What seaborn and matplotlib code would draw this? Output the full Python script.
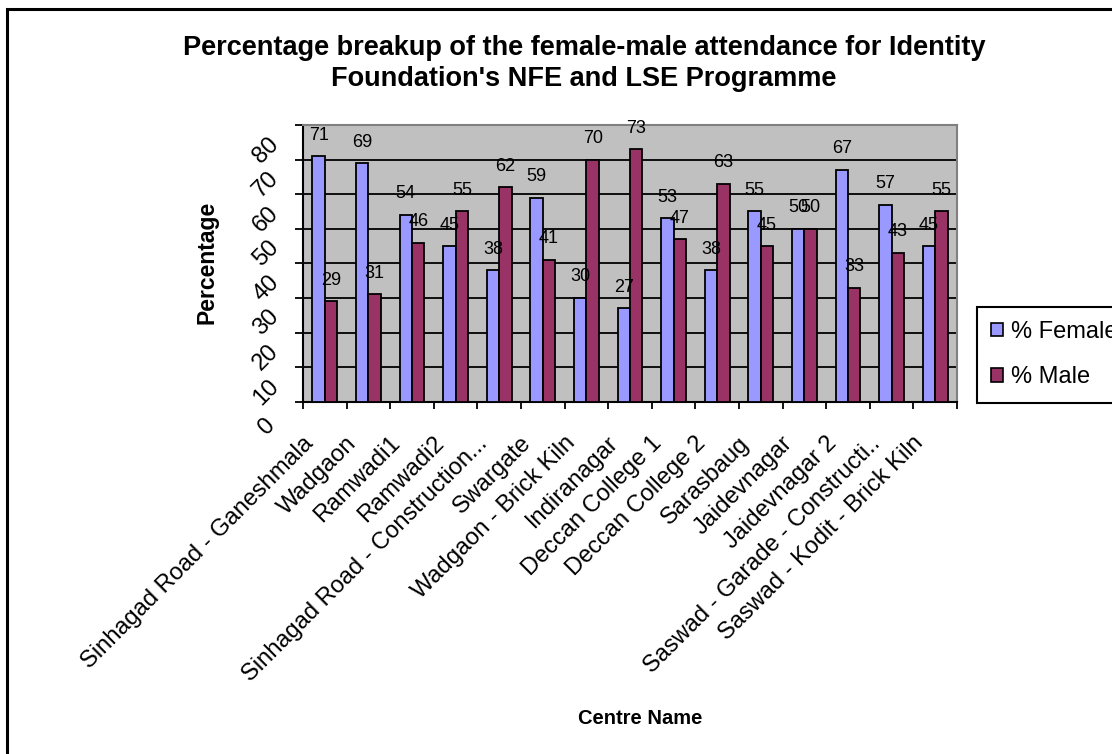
import numpy as np
import pandas as pd
import matplotlib
matplotlib.use("Agg")
import matplotlib.pyplot as plt
import matplotlib.transforms as mtransforms
from matplotlib.patches import Rectangle, Patch
import seaborn as sns

# ---- data -------------------------------------------------------------
centres = [
    "Sinhagad Road - Ganeshmala", "Wadgaon", "Ramwadi1", "Ramwadi2",
    "Sinhagad Road - Construction...", "Swargate", "Wadgaon - Brick Kiln",
    "Indiranagar", "Deccan College 1", "Deccan College 2", "Sarasbaug",
    "Jaidevnagar", "Jaidevnagar 2", "Saswad - Garade - Constructi..",
    "Saswad - Kodit - Brick Kiln",
]
female_pct = [71, 69, 54, 45, 38, 59, 30, 27, 53, 38, 55, 50, 67, 57, 45]
male_pct = [29, 31, 46, 55, 62, 41, 70, 73, 47, 63, 45, 50, 33, 43, 55]
series_names = ["% Female", "% Male"]
y_ticks = [0, 10, 20, 30, 40, 50, 60, 70, 80]
title_lines = [
    "Percentage breakup of the female-male attendance for Identity",
    "Foundation's NFE and LSE Programme",
]

colors = {"% Female": "#9999FF", "% Male": "#993366"}

df = pd.DataFrame({
    "Centre Name": centres + centres,
    "Series": [series_names[0]] * len(centres) + [series_names[1]] * len(centres),
    "Percentage": female_pct + male_pct,
})

# ---- style ------------------------------------------------------------
sns.set_style("white")
plt.rcParams["font.family"] = ["Liberation Sans", "DejaVu Sans"]
for key in ["text.color", "axes.labelcolor", "xtick.color", "ytick.color"]:
    plt.rcParams[key] = "black"

W, H = 1112, 754
fig = plt.figure(figsize=(W / 100, H / 100), dpi=100)
fig.patch.set_facecolor("white")

# chart-area frame
fig.add_artist(Rectangle((7 / W, -0.05), 1.2, 1 - 9 / H + 0.05,
                         transform=fig.transFigure, fill=False,
                         lw=2.2, ec="black", zorder=0))

left, right, top, bottom = 303, 957, 125, 401.7
ax = fig.add_axes([left / W, 1 - bottom / H, (right - left) / W, (bottom - top) / H])
ax.set_facecolor("#C0C0C0")

sns.barplot(data=df, x="Centre Name", y="Percentage", hue="Series",
            palette=colors, hue_order=series_names, width=2 / 3.5,
            edgecolor="black", linewidth=1.3, saturation=1,
            legend=False, ax=ax, zorder=3)

for cont in ax.containers:
    ax.bar_label(cont, fmt="%g", padding=9, fontsize=13, color="black", zorder=5)

ax.set_xlim(-0.5, len(centres) - 0.5)
ax.set_ylim(0, 80)
ax.set_xlabel("")
ax.set_ylabel("")

# gridlines
ax.set_axisbelow(True)
ax.yaxis.grid(True, color="black", lw=1.3)
ax.xaxis.grid(False)

for side in ["left", "bottom"]:
    ax.spines[side].set_color("black")
    ax.spines[side].set_linewidth(1.5)
for side in ["top", "right"]:
    ax.spines[side].set_color("#808080")
    ax.spines[side].set_linewidth(1.5)

# y axis ticks
ax.set_yticks(y_ticks)
ax.set_yticklabels([str(v) for v in y_ticks], rotation=45, fontsize=17)
ax.tick_params(axis="y", which="major", direction="out", length=5.8,
               width=1.3, pad=20.8, left=True, colors="black")
ax.get_ygridlines()[-1].set_visible(False)
ydown = mtransforms.ScaledTranslation(0, -0.25, fig.dpi_scale_trans)
for lab in ax.get_yticklabels():
    lab.set_ha("center")
    lab.set_va("center")
    lab.set_transform(lab.get_transform() + ydown)

# x axis ticks: labels at centres, tick marks at category boundaries
ax.set_xticks(np.arange(len(centres)))
ax.set_xticklabels(centres, rotation=45, fontsize=17,
                   ha="right", va="center", rotation_mode="anchor")
ax.set_xticks(np.arange(-0.5, len(centres), 1), minor=True)
ax.tick_params(axis="x", which="major", length=0, pad=27.6, colors="black")
ax.tick_params(axis="x", which="minor", direction="out", length=5, width=1.3,
               bottom=True, colors="black")
xshift = mtransforms.ScaledTranslation(-0.15, 0, fig.dpi_scale_trans)
for lab in ax.get_xticklabels():
    lab.set_transform(lab.get_transform() + xshift)

# titles
fig.text(584 / W, 1 - 63.5 / H, "\n".join(title_lines), ha="center", va="center",
         fontsize=19.5, fontweight="bold", linespacing=1.25, color="black")
fig.text(640 / W, 1 - 718 / H, "Centre Name", ha="center", va="center",
         fontsize=14.5, fontweight="bold", color="black")
fig.text(207 / W, 1 - 262 / H, "Percentage", ha="center", va="center",
         rotation=90, fontsize=16.5, fontweight="bold", color="black")

# legend
handles = [Patch(facecolor=colors[s], edgecolor="black", lw=1.2) for s in series_names]
leg = fig.legend(handles, series_names, loc="upper left",
                 bbox_to_anchor=(976.7 / W, 1 - 306.7 / H),
                 borderaxespad=0, fontsize=17, frameon=True, fancybox=False,
                 handlelength=0.5, handleheight=0.5, handletextpad=0.35,
                 labelspacing=1.0, borderpad=0.6, labelcolor="black")
leg.get_frame().set_edgecolor("black")
leg.get_frame().set_linewidth(1.5)
leg.get_frame().set_alpha(1)

fig.savefig("out.png", dpi=100)
